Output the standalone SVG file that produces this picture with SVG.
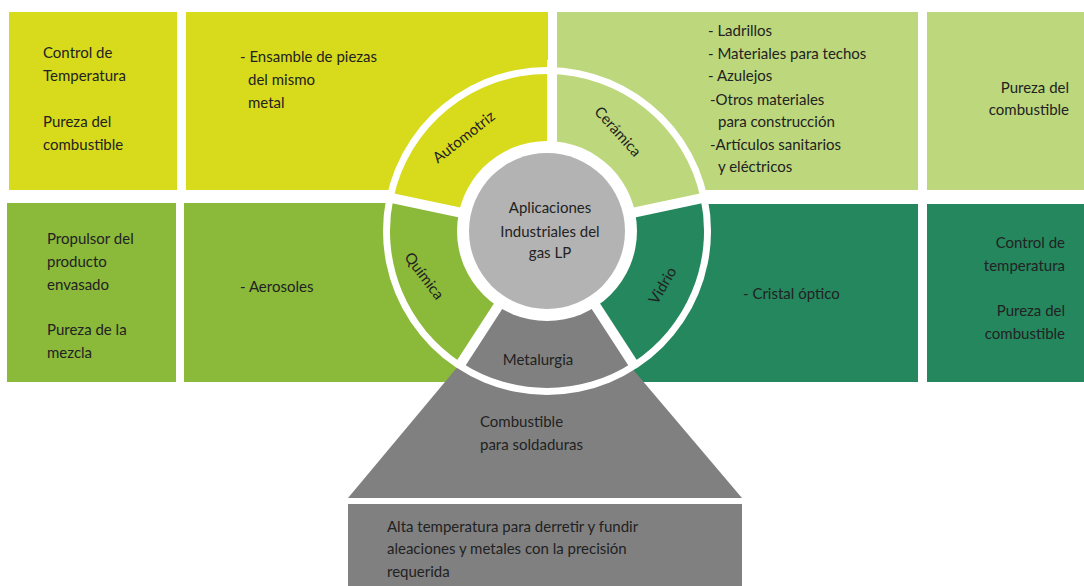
<svg xmlns="http://www.w3.org/2000/svg" width="1084" height="586" viewBox="0 0 1084 586">
<style>
text{font-family:Lato,"Open Sans","Liberation Sans",sans-serif;font-size:15px;fill:#222}
.e{text-anchor:end}.m{text-anchor:middle}
.y{fill:#D7DB1C}.lg{fill:#BCD77C}.mg{fill:#8BB93A}.dg{fill:#24875E}.g{fill:#808080}.cg{fill:#B3B3B3}
.div{stroke:#fff;stroke-width:10}
</style>
<rect width="1084" height="586" fill="#fff"/>
<g id="automotriz-left"><rect class="y" x="9" y="12" width="168" height="178"/>
<text x="43" y="58">Control de</text><text x="43" y="81">Temperatura</text><text x="43" y="127">Pureza del</text><text x="43" y="150">combustible</text></g>
<g id="automotriz-right"><rect class="y" x="186" y="12" width="362" height="178"/>
<text x="240" y="62">- Ensamble de piezas</text><text x="248" y="85">del mismo</text><text x="248" y="108">metal</text></g>
<g id="ceramica-left"><rect class="lg" x="557" y="12" width="361" height="178"/>
<text x="708" y="36">- Ladrillos</text><text x="708" y="59">- Materiales para techos</text><text x="708" y="81">- Azulejos</text><text x="710" y="105">-Otros materiales</text><text x="718" y="127">para construcción</text><text x="710" y="150">-Artículos sanitarios</text><text x="718" y="172">y eléctricos</text></g>
<g id="ceramica-right"><rect class="lg" x="927" y="12" width="157" height="178"/>
<text class="e" x="1069" y="93">Pureza del</text><text class="e" x="1069" y="115">combustible</text></g>
<g id="quimica-left"><rect class="mg" x="7" y="203" width="169" height="179"/>
<text x="47" y="244">Propulsor del</text><text x="47" y="267">producto</text><text x="47" y="290">envasado</text><text x="47" y="335">Pureza de la</text><text x="47" y="358">mezcla</text></g>
<g id="quimica-right"><rect class="mg" x="184" y="203" width="366" height="179"/>
<text x="240" y="292">- Aerosoles</text></g>
<g id="vidrio-left"><rect class="dg" x="547" y="204" width="371" height="178"/>
<text x="743" y="299">- Cristal óptico</text></g>
<g id="vidrio-right"><rect class="dg" x="927" y="204" width="157" height="178"/>
<text class="e" x="1065" y="248">Control de</text><text class="e" x="1065" y="271">temperatura</text><text class="e" x="1065" y="316">Pureza del</text><text class="e" x="1065" y="339">combustible</text></g>
<g id="metalurgia-trap"><polygon class="g" points="348,498 742,498 608,340 480,340"/>
<text x="480" y="427">Combustible</text><text x="480" y="450">para soldaduras</text></g>
<g id="metalurgia-box"><rect class="g" x="348" y="504" width="394" height="82"/>
<text x="387" y="532">Alta temperatura para derretir y fundir</text><text x="387" y="554">aleaciones y metales con la precisión</text><text x="387" y="577">requerida</text></g>
<g id="ring">
<circle cx="547" cy="231" r="164" fill="#fff"/>
<path class="y" d="M547,231 L393.4,198.4 A157,157 0 0 1 547,74 Z"/>
<path class="lg" d="M547,231 L547,74 A157,157 0 0 1 700.6,198.4 Z"/>
<path class="dg" d="M547,231 L700.6,198.4 A157,157 0 0 1 632.5,362.7 Z"/>
<path class="g" d="M547,231 L632.5,362.7 A157,157 0 0 1 461.5,362.7 Z"/>
<path class="mg" d="M547,231 L461.5,362.7 A157,157 0 0 1 393.4,198.4 Z"/>
</g>
<g id="connectors">
<line class="div" x1="552" y1="231" x2="552" y2="60"/>
<line class="div" x1="547" y1="231" x2="386" y2="196.8"/>
<line class="div" x1="547" y1="231" x2="708" y2="196.8"/>
<line class="div" x1="547" y1="231" x2="634.2" y2="365.2"/>
<line class="div" x1="547" y1="231" x2="459.8" y2="365.2"/>
</g>
<g id="labels">
<text class="m" transform="translate(467,141) rotate(-38)">Automotriz</text>
<text class="m" transform="translate(614,135) rotate(48)">Cerámica</text>
<text class="m" transform="translate(420,279) rotate(53)">Química</text>
<text class="m" transform="translate(667,288) rotate(-60)">Vidrio</text>
<text class="m" x="538" y="365">Metalurgia</text>
</g>
<g id="center">
<circle cx="547" cy="231" r="90" fill="#fff"/>
<circle class="cg" cx="547" cy="231" r="78"/>
<text class="m" x="550" y="213">Aplicaciones</text><text class="m" x="550" y="237">Industriales del</text><text class="m" x="550" y="258">gas LP</text>
</g>
</svg>
